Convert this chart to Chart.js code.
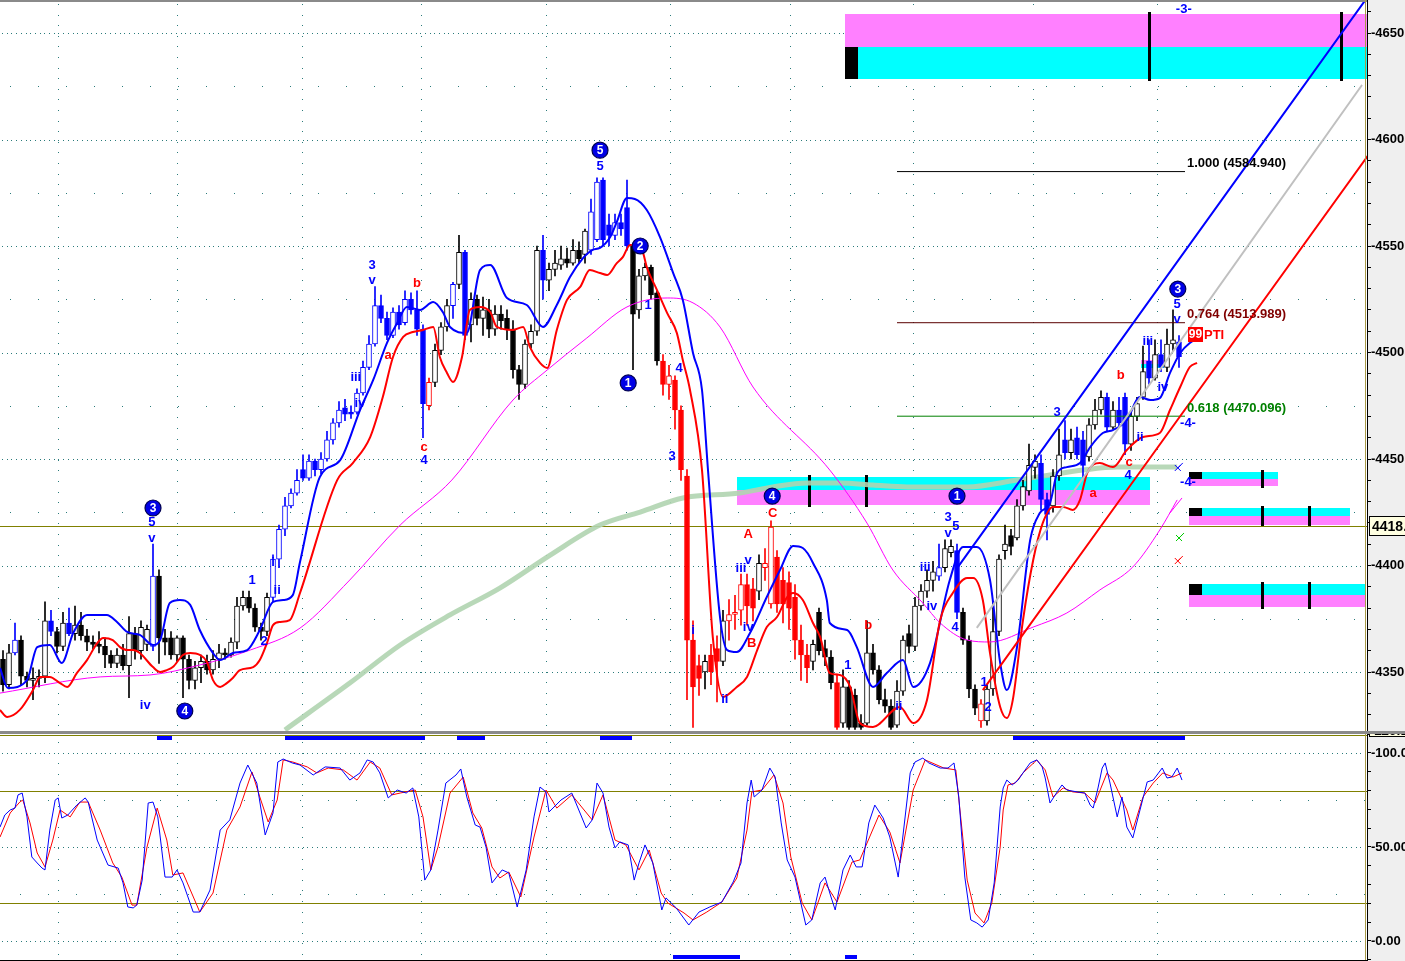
<!DOCTYPE html>
<html>
<head>
<meta charset="utf-8">
<title>Elliott wave chart</title>
<script src="https://cdn.jsdelivr.net/npm/chart.js@4.4.1/dist/chart.umd.min.js"></script>
<style>
  html, body { margin: 0; padding: 0; background: #ffffff; overflow: hidden; }
  #frame { position: relative; width: 1405px; height: 961px; }
  #priceCanvas { position: absolute; left: 0; top: 0; }
  #divider { position: absolute; left: 0; top: 731px; width: 1405px; height: 3px; background: #8a8a8a; }
  #stochCanvas { position: absolute; left: 0; top: 734px; }
</style>
</head>
<body>
<div id="frame">
  <canvas id="priceCanvas" width="1405" height="731"></canvas>
  <div id="divider"></div>
  <canvas id="stochCanvas" width="1405" height="227"></canvas>
</div>
<script>
Chart.defaults.font.family = '"Liberation Sans", Arial, sans-serif';

// ---- bars (one entry per bar) ----
const opens = [
  4356,4344,4359,4365,4348,4346,4347,4348,4374,4369, 4362,4373,4368,4372,4367,4364,4363,4362,4358,4354,
  4358,4353,4368,4360,4363,4362,4395,4366,4366,4358, 4366,4356,4346,4352,4355,4351,4356,4359,4358,4364,
  4381,4385,4380,4371,4369,4385,4403,4417,4428,4434, 4445,4441,4449,4445,4450,4459,4467,4474,4472,4472,
  4481,4493,4504,4522,4516,4508,4519,4514,4525,4520, 4511,4475,4486,4501,4512,4522,4532,4547,4513,4525,
  4516,4520,4511,4518,4516,4511,4492,4485,4504,4510, 4548,4534,4539,4541,4544,4542,4548,4546,4548,4553,
  4581,4560,4555,4561,4568,4550,4520,4536,4540,4528, 4496,4485,4487,4473,4442,4365,4353,4350,4358,4361,
  4355,4374,4377,4379,4391,4389,4388,4399,4382,4404, 4393,4392,4385,4365,4358,4355,4378,4361,4357,4345,
  4326,4343,4339,4326,4326,4359,4351,4337,4334,4325, 4341,4368,4362,4381,4388,4393,4395,4399,4406,4407,
  4378,4365,4342,4327,4327,4342,4369,4407,4414,4413, 4428,4435,4446,4448,4431,4428,4442,4459,4453,4460,
  4459,4451,4466,4473,4479,4465,4473,4479,4457,4470, 4479,4496,4488,4499,4493,4504,4505
];
const highs = [
  4360,4363,4373,4367,4350,4352,4351,4383,4379,4371, 4378,4380,4381,4378,4370,4367,4369,4366,4360,4361,
  4363,4376,4371,4374,4372,4410,4398,4370,4369,4367, 4367,4358,4355,4358,4358,4360,4363,4361,4366,4385,
  4388,4388,4382,4373,4387,4405,4419,4432,4436,4445, 4452,4452,4450,4453,4463,4469,4477,4478,4475,4483,
  4496,4508,4531,4527,4519,4521,4522,4529,4528,4529, 4513,4488,4504,4514,4525,4533,4555,4548,4528,4527,
  4526,4525,4522,4522,4520,4515,4494,4506,4513,4550, 4555,4542,4548,4550,4549,4553,4552,4558,4572,4582,
  4582,4565,4565,4565,4581,4551,4539,4542,4541,4529, 4499,4494,4489,4475,4445,4374,4358,4358,4363,4367,
  4379,4384,4386,4396,4396,4394,4405,4408,4421,4407, 4399,4397,4391,4372,4363,4365,4380,4365,4360,4349,
  4351,4346,4342,4330,4374,4363,4353,4342,4337,4346, 4367,4372,4385,4391,4398,4402,4410,4412,4412,4410,
  4380,4367,4344,4337,4344,4383,4405,4419,4417,4431, 4440,4457,4452,4452,4434,4445,4464,4468,4464,4465,
  4463,4469,4478,4482,4481,4477,4479,4481,4472,4479, 4503,4506,4506,4506,4511,4520,4508
];
const lows = [
  4341,4342,4358,4344,4343,4337,4343,4345,4367,4359, 4360,4367,4365,4365,4360,4361,4359,4352,4352,4352,
  4351,4338,4356,4356,4360,4360,4354,4358,4356,4355, 4338,4342,4342,4345,4349,4349,4352,4356,4357,4361,
  4379,4378,4369,4365,4367,4383,4399,4414,4427,4433, 4440,4440,4442,4443,4449,4457,4465,4468,4469,4471,
  4480,4492,4503,4514,4506,4507,4511,4513,4518,4508, 4460,4473,4484,4499,4510,4516,4530,4506,4505,4513,
  4508,4507,4508,4511,4506,4488,4478,4483,4502,4508, 4525,4529,4536,4539,4540,4541,4542,4542,4546,4552,
  4550,4550,4553,4555,4548,4492,4516,4534,4525,4494, 4480,4478,4464,4440,4337,4324,4339,4342,4344,4336,
  4353,4365,4370,4372,4372,4374,4384,4393,4380,4378, 4373,4370,4356,4346,4345,4351,4358,4353,4342,4323,
  4324,4323,4323,4323,4325,4349,4335,4331,4323,4324, 4339,4359,4360,4379,4385,4388,4393,4397,4404,4375,
  4363,4338,4330,4324,4325,4339,4367,4403,4405,4412, 4426,4433,4441,4426,4412,4425,4440,4450,4450,4450,
  4441,4449,4464,4471,4463,4464,4465,4452,4454,4468, 4478,4485,4487,4491,4491,4501,4493
];
const closes = [
  4344,4359,4365,4348,4346,4347,4348,4374,4369,4362, 4373,4368,4372,4367,4364,4363,4362,4358,4354,4358,
  4353,4368,4360,4371,4370,4395,4366,4364,4358,4366, 4356,4346,4352,4355,4351,4356,4359,4358,4364,4381,
  4385,4380,4371,4369,4385,4403,4417,4428,4434,4440, 4441,4449,4445,4450,4459,4467,4473,4471,4471,4481,
  4493,4504,4522,4516,4508,4519,4513,4525,4520,4511, 4476,4486,4501,4512,4522,4532,4547,4508,4525,4516,
  4520,4511,4518,4515,4511,4492,4485,4504,4510,4548, 4534,4539,4542,4544,4542,4548,4544,4557,4566,4580,
  4553,4555,4561,4558,4550,4518,4536,4540,4527,4496, 4485,4489,4473,4445,4365,4343,4347,4355,4350,4355,
  4374,4377,4378,4391,4381,4380,4401,4401,4418,4382, 4382,4380,4365,4358,4352,4363,4360,4357,4345,4324,
  4343,4324,4324,4324,4359,4351,4337,4334,4324,4341, 4365,4362,4381,4388,4393,4397,4399,4408,4409,4378,
  4365,4342,4333,4335,4342,4369,4403,4410,4409,4428, 4437,4447,4449,4431,4424,4442,4452,4453,4459,4452,
  4447,4466,4473,4479,4465,4473,4467,4457,4470,4476, 4491,4488,4499,4493,4504,4506,4498
];
// wave colouring of each bar: k = plain, b = blue count, r = red count
const waveGroup = (
  'kkbkkkkkbk' + 'kbkkkkkkkk' + 'kkkkkbkkkk' + 'kkkkkkkkkk' + 'kkkkkbbbbb' +
  'bbbbbbbbbb' + 'bbbbbbbbbb' + 'brkkkbkbkk' + 'kkkkkkkkkk' + 'bkkkkkkkbb' +
  'bbbbbkkkkk' + 'rrrrrrrkrr' + 'krrrrrkrrr' + 'rrrrrkkkkr' + 'kkkkkkkkkk' +
  'kkkkkkbkkb' + 'kkkrkkkkkk' + 'kkkbbkkbkb' + 'bkkkbkbbkk' + 'kbkbkkb'
).split('');

// ---- averages, read at their turning points: [bar, price] ----
const upperBand = [[-0.5,4351.9],[0.8,4342.5],[4,4346.2],[5.7,4361.7],[7.8,4362.7],[9.8,4354.2],[11.7,4368.3],[14,4376.8],[17.3,4376.8],[19,4373.5],[20.7,4368.8],[22.8,4367.4],[25,4362.7],[26.2,4365],[27.8,4382.4],[29.5,4383.8],[31.2,4381.5],[32.8,4369.7],[35,4358.9],[36.2,4355.6],[38.3,4358.9],[40.7,4360.3],[42.8,4369.7],[45,4382.9],[46.7,4383.8],[48.3,4386.1],[49.5,4401.6],[52.8,4441.5],[56.2,4449.5],[59.5,4473],[61.7,4487.1],[64,4504.5],[65.7,4513.9],[67.3,4521.4],[69.5,4520],[71.7,4523.7],[73.3,4519],[74.5,4512],[77.3,4509.2],[79.5,4538.7],[81.2,4541.1],[84,4525.6],[87.3,4522.3],[90,4512],[92.3,4522.3],[94.5,4535.4],[96.7,4544.4],[98.2,4548.1],[99.5,4549.1],[101.2,4554.2],[102.3,4561.3],[104,4572.5],[105.3,4572.1],[107.3,4566.9],[109.5,4554.2],[111.7,4537.3],[113.3,4524.7],[115,4499.8],[116.5,4482.4],[117.5,4444.8],[119.5,4375.8],[120.7,4360.3],[122.3,4359.4],[124.5,4368.3],[127.3,4385.2],[129.5,4397.9],[131.7,4409.2],[133.3,4408.2],[135,4401.2],[137.3,4383.8],[137.8,4373],[140.7,4369.7],[142.3,4361.7],[145,4343],[147.3,4349.5],[150,4355.6],[151.7,4343],[154.5,4354.2],[157.8,4393.2],[160,4408.7],[162.3,4408.7],[164.5,4393.2],[166.2,4354.2],[167.3,4341.5],[169,4361.7],[171.2,4412],[172.8,4424.6],[174.5,4429.3],[175.7,4443.4],[177.3,4446.2],[179.5,4448.1],[181.2,4455.6],[183.3,4462.2],[185,4463.6],[187.3,4468.3],[189.5,4479.1],[191.2,4477.7],[192.8,4478.6],[194.5,4490.4],[196.2,4499.8],[197.8,4504.5],[199.5,4507.3]];
const lowerBand = [[-0.5,4332.2],[0.7,4328.9],[2.8,4332.2],[5,4341.5],[6.2,4347.7],[7.8,4347.7],[9.5,4344.8],[10.7,4343],[12.3,4349.5],[14,4355.6],[15.7,4363.6],[16.7,4366],[18.3,4365],[19.5,4361.7],[20.7,4360.3],[21.7,4360.3],[22.8,4358.9],[25,4352.3],[26.2,4350],[27.3,4350.9],[28.3,4352.3],[30,4358],[31.2,4358.9],[32.8,4358],[34,4354.7],[35,4346.2],[36.2,4343],[37.3,4344.8],[38.3,4347.2],[39.5,4350.9],[41.7,4352.3],[42.8,4355.6],[44,4363.6],[45,4372],[46.2,4373.5],[47.8,4374.4],[49.5,4387.1],[55.7,4440.1],[58.3,4448.1],[61.2,4460.3],[63.3,4479.1],[65,4497.9],[66.7,4507.3],[68.3,4509.6],[70,4510.6],[71.7,4512],[72.8,4497.9],[74,4490.4],[75,4486.2],[76.5,4497.9],[77.8,4520],[79.5,4521.4],[81.2,4519],[82.3,4512],[85,4510.6],[86.7,4512],[87.8,4502.6],[89.5,4495.1],[90.7,4492.7],[92.3,4510.6],[94,4524.7],[96.2,4530.8],[97.8,4538.7],[99.5,4537.3],[100.7,4536.4],[102.3,4542],[103.3,4544.8],[104.5,4550.5],[106.5,4548.1],[107.3,4540.1],[109,4529.3],[110.7,4518.5],[112.3,4509.2],[113.3,4496.5],[114.5,4482.4],[116.5,4444.8],[118.3,4366.4],[120,4338.3],[122.3,4343],[124,4347.7],[125.7,4360.3],[127.3,4371.1],[129,4375.8],[130.7,4385.2],[131.7,4387.1],[133.3,4383.8],[135,4373],[136.2,4366.4],[137.8,4349.5],[139.5,4348.6],[141.2,4343],[142.8,4326.1],[145,4324.2],[149.5,4333.6],[151.7,4326.1],[154,4336.9],[156.2,4374.4],[158.3,4387.1],[160.7,4394.1],[161.7,4394.1],[163.3,4383.8],[164.5,4358.9],[166.2,4333.6],[167.3,4328.4],[168.3,4336.9],[170,4374.4],[171.7,4402.6],[173.3,4420],[175,4427.5],[176.7,4427.5],[178.3,4426.1],[179.5,4430.8],[180.7,4443.4],[182.8,4448.1],[185,4446.2],[187.3,4454.2],[190,4460.3],[192.8,4462.2],[194.5,4473],[196.2,4483.8],[197.8,4493.2],[199,4495.1]];
const slowAverage = [[-0.5,4340.1],[16.2,4347.7],[24.5,4348.6],[32.8,4353.3],[41.2,4360.3],[49.5,4370.6],[57.8,4393.2],[66.2,4419],[74.8,4440.1],[85,4477.7],[90.7,4491.8],[97.3,4506.8],[104,4521.4],[110.7,4525.6],[115,4523.3],[119.5,4512],[125,4483.8],[137.8,4444.8],[144,4419.9],[148.3,4397.9],[153.3,4382.4],[156.2,4373],[160.7,4365],[164.5,4364.1],[171.7,4371.1],[177.3,4377.7],[182.8,4388.5],[188.3,4399.3],[192.8,4416.7],[195.7,4430.8]];
const longAverage = [[47,4322.8],[57.8,4344.8],[66.2,4362.7],[74.5,4376.8],[82.8,4389.4],[91.2,4404.9],[99.5,4419],[106.2,4425.1],[113.3,4431.7],[122.8,4434],[128.3,4436.9],[134,4438.7],[139.5,4438.7],[145,4437.8],[150.7,4436.9],[160.7,4436.9],[169,4440.1],[174.5,4442.5],[180,4444.8],[185.7,4446.2],[195.7,4446.2]];

// channel lines
const blueChannel = [[159.2,4399.5],[227.5,4667.2]];
const redChannel = [[163.3,4341.5],[227.5,4592.5]];
const grayChannel = [[162.3,4370.7],[226.5,4625.6]];

// fibonacci targets
const fibRatios = ['1.000', '0.764', '0.618'];
const fibLevels = [4584.94, 4513.989, 4470.096];
const fibSpan = [149, 197];
const refLevel = 4418.4;

// stochastic %K / %D: [bar, value]
const stochK = [[-0.5,60.6],[0.3,67],[1.2,69.7],[2,70.7],[2.5,77.7],[3.2,78.7],[4,66],[4.8,44.7],[5.7,41.5],[6.5,38.8],[7,37.8],[7.8,59],[8.7,75],[9.2,76.1],[9.8,65.4],[10.8,67],[12.3,72.3],[13.7,76.1],[14.2,73.9],[15.7,53.7],[17.5,40.4],[19.2,38.8],[20,30.9],[20.8,18.1],[21.7,17.6],[22.3,19.1],[23.2,32.4],[24.2,73.4],[25,73.9],[25.8,66],[27,34],[28.2,34],[29,37.8],[30,30.9],[31.7,15.4],[32.8,15.4],[34.5,27.1],[36.2,59],[37.8,64.4],[39.5,84],[40.8,93.6],[42.3,84],[43.7,56.4],[45,68.1],[45.8,95.2],[46.7,96.8],[48.2,94.7],[49.5,93.6],[51.7,88.3],[53.7,92.6],[56.2,92],[57.8,85.6],[59.5,89.4],[60.7,96.3],[61.7,95.2],[62.8,89.4],[64.2,76.1],[65.7,80.3],[67.2,78.7],[68.3,81.4],[69.3,66],[70.3,32.4],[71.3,37.8],[72.5,59],[73.8,84],[75.5,88.3],[76.3,91.5],[77.3,76.6],[78.7,61.7],[79.5,60.6],[80.5,50],[81.5,30.9],[83.2,37.8],[84.3,36.2],[85.7,18.1],[87.2,37.8],[88.5,66],[89.5,81.9],[90.5,79.3],[91,68.6],[93,75],[94.8,78.7],[97.2,60.1],[98.2,64.4],[99,84],[100,78.7],[101,60.6],[102,49.5],[102.8,52.7],[104.2,51.1],[105.2,32.4],[106,41.5],[107,51.1],[108.3,41.5],[109.8,16.5],[110.5,22.9],[112.2,17.6],[114.3,8.5],[116,15.4],[117.8,18.1],[119.8,20.7],[121.7,31.4],[123,41.5],[124,73.4],[124.7,85.6],[125.2,76.6],[126.5,80.3],[127.8,92],[128.7,87.2],[129.7,62.8],[130.7,43.1],[132,34],[133.8,8.5],[134.8,11.2],[136.2,30.9],[137,34],[138,23.4],[138.7,16.5],[140,37.8],[141.2,45.7],[142.2,39.4],[143.2,39.4],[144.3,62.8],[145.3,72.3],[146.7,65.4],[147.8,55.3],[149.2,34],[151.2,89.4],[152,95.2],[153.3,97.3],[154.3,94.7],[156.2,92],[157.5,92],[158.5,94.7],[159.3,76.6],[160.3,34],[161.3,11.2],[162.3,9.6],[163.2,7.4],[164.2,11.2],[165.2,30.9],[166.2,71.3],[166.7,81.4],[167.3,85.6],[168.2,83],[169.2,85.6],[170,89.4],[171.2,94.7],[172.3,96.3],[173.2,92.6],[173.7,86.7],[174.5,73.4],[175.7,79.3],[176.5,83],[177.3,80.3],[179,79.3],[180.3,78.7],[181.2,72.3],[181.7,70.7],[182.5,81.4],[183.2,92],[183.7,94.7],[184.5,84],[185.7,66],[186.5,76.6],[187.3,60.6],[188.3,54.8],[189.5,69.7],[190.7,84.6],[191.7,85.6],[193.2,92],[194,86.7],[194.8,87.2],[195.7,92],[196.5,85.6]];
const stochD = [[-0.5,55.3],[1.2,68.1],[2.8,73.9],[3.3,75],[4.5,62.8],[5.7,46.8],[7,39.4],[8.3,53.7],[9.5,69.7],[11.2,66],[12.8,73.9],[14.2,73.9],[16.2,59],[18.3,41.5],[19.8,34],[21.5,19.1],[22.3,19.1],[24,50],[25.7,70.7],[27.3,53.7],[28.3,35.1],[30,36.2],[32.8,15.4],[35,25.5],[37.3,59],[39.5,71.3],[41.5,89.9],[42.8,76.6],[44.2,63.3],[45.7,75],[46.7,96.3],[48.3,95.2],[50.7,92.6],[52.3,89.4],[54.2,92],[56.7,91],[59,85.6],[61.2,95.2],[62.8,92],[64.8,77.7],[66.2,78.7],[68.7,80.3],[70,66],[71.3,37.8],[72.5,50],[74.5,78.7],[76.7,87.2],[78.3,68.1],[79.8,60.1],[81.5,39.4],[82.8,33.5],[84.3,36.7],[86.3,23.4],[88.5,55.3],[90.5,80.3],[92.3,70.7],[94.8,77.7],[98.2,64.4],[100,77.7],[102,53.7],[103.8,51.1],[106,37.8],[107.7,48.4],[109.7,25.5],[110.8,20.2],[113.5,14.9],[115,11.2],[117.3,15.4],[119.8,20.7],[122.3,33.5],[124,59],[124.8,79.3],[126.5,80.3],[128.5,88.3],[130,73.4],[131.3,44.7],[133.2,20.2],[134.8,11.2],[137,30.9],[139,20.7],[141.5,42],[142.8,43.1],[146,67],[147.8,58],[149.5,41.5],[151.7,80.3],[153.7,96.3],[156.8,92],[158.8,91],[160.7,32.4],[162,14.9],[163.5,9.6],[164.8,20.2],[166.2,50],[166.7,69.7],[167.5,83],[168.7,84],[170,89.4],[172.3,96.3],[173.7,91],[175,76.6],[176.7,81.4],[178.3,79.3],[180.3,78.7],[182,73.4],[184,89.4],[185,85.6],[187.3,69.7],[188.3,59],[190,76.6],[191.7,84],[193.3,89.4],[195,87.2],[196.5,89.4]];
const stochBands = [80, 20];
const stochTickText = { 100: '-100.0', 50: '-50.00', 0: '-0.00' };

// ---- annotations (bar, price) ----
// [x0, x1, top, middle, bottom, upper colour, black square band, marker bars]
const zones = [
  [140.3, 227.5, 4658.9, 4643.4, 4628.4, 'm', 'low', [191, 223]],
  [122.3, 191.2, 4441.6, 4435.4, 4428.4, 'c', null, [134.3, 143.8]],
  [197.7, 212.5, 4443.9, 4440.6, 4437.3, 'c', 'up', [209.8]],
  [197.7, 224.5, 4427.0, 4423.2, 4419.0, 'c', 'up', [209.8, 217.7]],
  [197.7, 227.2, 4391.3, 4386.2, 4380.5, 'c', 'up', [209.8, 217.7]],
  [189.7, 193.5, 4496.5, 4494.6, 4492.7, 'm', null, []]
];
const circleLabels = [
  ['3', 25, 4427], ['4', 30.3, 4331.7], ['5', 99.5, 4595], ['2', 106.2, 4550], ['1', 104.2, 4485.7],
  ['4', 128.2, 4432.6], ['1', 159, 4432.6], ['3', 195.8, 4529.8]
];
const waveLabels = [
  ['5',24.8,4420,'b'],['v',24.8,4412.9,'b'],['iv',23.7,4334.5,'b'],['1',41.5,4393.2,'b'],['2',43.5,4364.5,'b'],
  ['i',45,4401.6,'b'],['ii',45.7,4388.5,'b'],['3',61.5,4541.1,'b'],['v',61.5,4534,'b'],['b',69,4532.6,'r'],
  ['a',64.2,4498.4,'r'],['iii',58.8,4488.5,'b'],['iv',59.5,4476.3,'b'],['c',70.2,4455.6,'r'],['4',70.2,4449.5,'b'],
  ['5',99.5,4587.6,'b'],['1',107.5,4522.3,'b'],['4',112.7,4492.7,'b'],['3',111.5,4451,'b'],
  ['i',115,4369.7,'b'],['ii',120.3,4336.9,'b'],['iii',123,4398.8,'b'],['v',124.2,4402.6,'b'],['iv',124.2,4371.1,'b'],
  ['A',124.2,4414.8,'r'],['B',124.8,4363.6,'r'],['C',128.3,4424.6,'r'],['1',140.8,4353.3,'b'],['b',144.2,4372,'r'],
  ['ii',149.3,4334,'b'],['iii',153.7,4399.3,'b'],['iv',154.8,4381,'b'],['3',157.5,4422.8,'b'],['5',158.8,4418.5,'b'],
  ['v',157.5,4415.2,'b'],['4',158.7,4370.7,'b'],['1',163.5,4345.3,'b'],['2',164.2,4333.6,'b'],['3',175.7,4472.1,'b'],
  ['a',181.7,4434,'r'],['b',186.3,4489.4,'r'],['c',187.7,4448.6,'r'],['4',187.5,4442.5,'b'],['ii',189.5,4460.3,'b'],
  ['iii',190.8,4505.4,'b'],['iv',193.3,4483.8,'b'],['5',195.7,4522.8,'b'],['v',195.7,4515.7,'b'],
  ['-3-',196.8,4661.3,'b'],['-4-',197.5,4466.9,'b'],['-4-',197.5,4439.2,'b']
];
const ptiTag = [197.5, 4508.7];
const crossMarks = [[195.8, 4445.8, '#0000ff'], [196, 4412.9, '#00cc00'], [195.8, 4402.1, '#ff0000']];
const gridBars = [9.2, 29, 49.8, 69.7, 90.5, 111.2, 131.2, 151.7, 171.7, 192.3];
const stochMarksTop = [[25.7, 28.2], [47, 70.3], [75.7, 80.3], [99.5, 104.8], [168.3, 197]];
const stochMarksBottom = [[111.7, 122.8], [140.3, 142.3]];

// ---- scale ranges ----
const BAR_MIN = -0.5, BAR_MAX = 227.5;
const PRICE_MIN = 4322.3, PRICE_MAX = 4665.5;
const STOCH_MIN = -10.64, STOCH_MAX = 110.1;

const LABEL_FONT = 'bold 13px "Liberation Sans", Arial, sans-serif';
const DOT = '#2b7b7b';
const CYAN = '#00ffff', MAGENTA = '#ff80ff', OLIVE = '#808000';
const palette = { k: '#000000', b: '#0000ff', r: '#ff0000' };

function lineSet(points, color, width, order, extra) {
  return Object.assign({
    type: 'line',
    data: points.map(p => ({ x: p[0], y: p[1] })),
    borderColor: color, borderWidth: width,
    pointRadius: 0, fill: false, order: order,
    cubicInterpolationMode: 'monotone'
  }, extra || {});
}
function hDots(ctx, y, x0, x1, step) {
  y = Math.round(y);
  for (let x = x0; x < x1; x += step) ctx.fillRect(Math.round(x), y, 1, 1);
}
function vDots(ctx, x, y0, y1, step) {
  x = Math.round(x);
  for (let y = y0; y < y1; y += step) ctx.fillRect(x, Math.round(y), 1, 1);
}
function circled(ctx, text, px, py) {
  ctx.beginPath();
  ctx.arc(px, py, 8, 0, Math.PI * 2);
  ctx.fillStyle = '#0000e6';
  ctx.fill();
  ctx.lineWidth = 1.2;
  ctx.strokeStyle = '#000050';
  ctx.stroke();
  ctx.fillStyle = '#ffffff';
  ctx.font = 'bold 12px "Liberation Sans", Arial, sans-serif';
  ctx.textAlign = 'center';
  ctx.textBaseline = 'middle';
  ctx.fillText(text, px, py + 0.5);
}
function axisOptions(min, max, step, labelFn) {
  return {
    position: 'right', min: min, max: max,
    afterFit(scale) { scale.width = 37; scale.paddingTop = 0; scale.paddingBottom = 0; },
    border: { display: false },
    grid: { drawOnChartArea: false, drawTicks: true, tickLength: 3, tickColor: '#000', tickWidth: 1 },
    ticks: {
      stepSize: step, autoSkip: false, includeBounds: false, padding: 0,
      color: '#000', font: { size: 13, weight: 'bold' },
      callback: labelFn
    }
  };
}

// ---- price panel ----
const idx = closes.map((_, i) => i);
const edgeColors = idx.map(i => palette[waveGroup[i]]);
const bodyColors = idx.map(i => closes[i] >= opens[i] ? '#ffffff' : palette[waveGroup[i]]);

const pricePanel = {
  id: 'pricePanel',
  beforeDraw(chart) {
    const { ctx, chartArea: a, width, height } = chart;
    ctx.save();
    ctx.fillStyle = '#ffffff';
    ctx.fillRect(0, 0, width, height);
    ctx.fillStyle = '#efefef';
    ctx.fillRect(a.right, 0, width - a.right, height);
    ctx.restore();
  },
  beforeDatasetsDraw(chart) {
    const { ctx, chartArea: a, scales: { x, y } } = chart;
    const X = v => x.getPixelForValue(v), Y = v => y.getPixelForValue(v);
    ctx.save();
    ctx.beginPath();
    ctx.rect(a.left, a.top, a.right - a.left, a.bottom - a.top);
    ctx.clip();
    ctx.fillStyle = DOT;
    for (let v = 4350; v <= 4650; v += 50) hDots(ctx, Y(v), a.left + 2, a.right, 4.7);
    for (let v = 4375; v <= 4625; v += 50) hDots(ctx, Y(v), a.left + 10, a.right, 28);
    gridBars.forEach(b => vDots(ctx, X(b), a.top + 4, a.bottom, 10.6));

    zones.forEach(([x0, x1, top, mid, bot, upper, square, marks]) => {
      const L = Math.round(X(x0)), R = Math.round(X(x1));
      const T = Math.round(Y(top)), M = Math.round(Y(mid)), B = Math.round(Y(bot));
      ctx.fillStyle = upper === 'm' ? MAGENTA : CYAN;
      ctx.fillRect(L, T, R - L, M - T);
      ctx.fillStyle = upper === 'm' ? CYAN : MAGENTA;
      ctx.fillRect(L, M, R - L, B - M);
      ctx.fillStyle = '#000000';
      if (square === 'up') ctx.fillRect(L, T, 13, M - T);
      if (square === 'low') ctx.fillRect(L, M, 13, B - M);
      marks.forEach(m => ctx.fillRect(Math.round(X(m)) - 1, T - 2, 3, B - T + 4));
    });

    ctx.fillStyle = OLIVE;
    ctx.fillRect(a.left, Math.round(Y(refLevel)), a.right - a.left, 1);
    ctx.restore();
  },
  afterDatasetsDraw(chart) {
    const { ctx, scales: { x, y } } = chart;
    const X = v => x.getPixelForValue(v), Y = v => y.getPixelForValue(v);
    ctx.save();
    ctx.font = LABEL_FONT;
    ctx.textAlign = 'left';
    ctx.textBaseline = 'middle';
    const fibColors = ['#000000', '#800000', '#008000'];
    fibLevels.forEach((lvl, k) => {
      ctx.fillStyle = fibColors[k];
      ctx.fillText(fibRatios[k] + ' (' + lvl.toFixed(3) + ')', X(fibSpan[1]) + 2, Y(lvl) - 8);
    });

    const tx = Math.round(X(ptiTag[0])), ty = Math.round(Y(ptiTag[1]));
    ctx.fillStyle = '#ff0000';
    ctx.fillRect(tx, ty - 7, 15, 15);
    ctx.fillStyle = '#ffffff';
    ctx.font = 'bold 12px "Liberation Sans", Arial, sans-serif';
    ctx.textAlign = 'center';
    ctx.fillText('99', tx + 7.5, ty + 1);
    ctx.fillStyle = '#ff0000';
    ctx.font = LABEL_FONT;
    ctx.textAlign = 'left';
    ctx.fillText('PTI', tx + 16, ty + 1);

    ctx.textAlign = 'center';
    waveLabels.forEach(([t, b, p, c]) => {
      ctx.fillStyle = c === 'r' ? '#ff0000' : '#0000ff';
      ctx.fillText(t, X(b), Y(p));
    });
    circleLabels.forEach(([t, b, p]) => circled(ctx, t, X(b), Y(p)));

    ctx.lineWidth = 1;
    crossMarks.forEach(([b, p, c]) => {
      const cx = X(b), cy = Y(p);
      ctx.strokeStyle = c;
      ctx.beginPath();
      ctx.moveTo(cx - 3, cy - 3); ctx.lineTo(cx + 3, cy + 3);
      ctx.moveTo(cx - 3, cy + 3); ctx.lineTo(cx + 3, cy - 3);
      ctx.moveTo(cx, cy); ctx.lineTo(cx + 5, cy - 5);
      ctx.stroke();
    });
    ctx.strokeStyle = '#ff00ff';
    ctx.beginPath();
    ctx.moveTo(X(194.5), Y(4424.7));
    ctx.lineTo(X(196.5), Y(4431.7));
    ctx.stroke();
    ctx.restore();
  },
  afterDraw(chart) {
    const { ctx, chartArea: a, width, height, scales: { y } } = chart;
    ctx.save();
    ctx.fillStyle = '#8a8a8a';
    ctx.fillRect(0, 0, a.right, 2);
    ctx.fillStyle = '#a89a48';
    ctx.fillRect(a.right - 3, 0, 1, height);
    ctx.fillStyle = '#000000';
    ctx.fillRect(a.right - 1, 0, 1, height);
    const ty = Math.round(y.getPixelForValue(refLevel));
    ctx.fillStyle = '#ffffe1';
    ctx.fillRect(a.right + 1, ty - 9, width - a.right, 19);
    ctx.strokeStyle = '#000000';
    ctx.lineWidth = 1;
    ctx.strokeRect(a.right + 1.5, ty - 9.5, width - a.right, 19);
    ctx.fillStyle = '#000000';
    ctx.font = 'bold 14px "Liberation Sans", Arial, sans-serif';
    ctx.textAlign = 'left';
    ctx.textBaseline = 'middle';
    ctx.fillText(refLevel.toFixed(1), a.right + 4, ty + 1);
    ctx.restore();
  }
};

new Chart(document.getElementById('priceCanvas'), {
  type: 'bar',
  data: {
    datasets: [
      lineSet(longAverage, 'rgba(176,212,176,0.9)', 5, 20),
      {
        type: 'bar', data: idx.map(i => ({ x: i, y: [lows[i], highs[i]] })),
        backgroundColor: edgeColors, borderWidth: 0, barThickness: 1, grouped: false, order: 19
      },
      {
        type: 'bar', data: idx.map(i => ({ x: i, y: [opens[i], closes[i]] })),
        backgroundColor: bodyColors, borderColor: edgeColors, borderWidth: 1, borderSkipped: false,
        barThickness: 5, minBarLength: 1, grouped: false, order: 18
      },
      lineSet(slowAverage, '#ff00ff', 1, 17),
      lineSet(upperBand, '#0000ff', 2, 16),
      lineSet(lowerBand, '#ff0000', 2, 15),
      lineSet([[fibSpan[0], fibLevels[0]], [fibSpan[1], fibLevels[0]]], '#000000', 1, 14),
      lineSet([[fibSpan[0], fibLevels[1]], [fibSpan[1], fibLevels[1]]], '#5a0000', 1, 14),
      lineSet([[fibSpan[0], fibLevels[2]], [fibSpan[1], fibLevels[2]]], '#008000', 1, 14),
      lineSet(grayChannel, '#c0c0c0', 2, 13),
      lineSet(redChannel, '#ff0000', 2, 12),
      lineSet(blueChannel, '#0000ff', 2, 11)
    ]
  },
  options: {
    responsive: false, animation: false, events: [],
    layout: { padding: 0 },
    plugins: { legend: { display: false }, tooltip: { enabled: false } },
    scales: {
      x: { type: 'linear', min: BAR_MIN, max: BAR_MAX, offset: false, display: false },
      y: axisOptions(PRICE_MIN, PRICE_MAX, 10, v => (v % 50 === 0 ? '-' + v : ''))
    }
  },
  plugins: [pricePanel]
});

// ---- stochastic panel ----
const stochPanel = {
  id: 'stochPanel',
  beforeDraw(chart) {
    const { ctx, chartArea: a, width, height } = chart;
    ctx.save();
    ctx.fillStyle = '#ffffff';
    ctx.fillRect(0, 0, width, height);
    ctx.fillStyle = '#efefef';
    ctx.fillRect(a.right, 0, width - a.right, height);
    ctx.restore();
  },
  beforeDatasetsDraw(chart) {
    const { ctx, chartArea: a, scales: { x, y } } = chart;
    const X = v => x.getPixelForValue(v), Y = v => y.getPixelForValue(v);
    ctx.save();
    ctx.beginPath();
    ctx.rect(a.left, a.top, a.right - a.left, a.bottom - a.top);
    ctx.clip();
    ctx.fillStyle = DOT;
    [0, 50, 100].forEach(v => hDots(ctx, Y(v), a.left + 2, a.right, 4.7));
    [25, 75].forEach(v => hDots(ctx, Y(v), a.left + 20, a.right, 28));
    gridBars.forEach(b => vDots(ctx, X(b), a.top + 8, a.bottom, 10.6));
    ctx.fillStyle = OLIVE;
    stochBands.forEach(v => ctx.fillRect(a.left, Math.round(Y(v)), a.right - a.left, 1));
    ctx.fillRect(a.left, 1, a.right - a.left, 1);
    ctx.fillStyle = '#0000ff';
    stochMarksTop.forEach(([b0, b1]) => ctx.fillRect(Math.round(X(b0)), 2, Math.round(X(b1) - X(b0)), 4));
    stochMarksBottom.forEach(([b0, b1]) => ctx.fillRect(Math.round(X(b0)), a.bottom - 6, Math.round(X(b1) - X(b0)), 4));
    ctx.restore();
  },
  afterDraw(chart) {
    const { ctx, chartArea: a, width, height } = chart;
    ctx.save();
    ctx.fillStyle = '#a89a48';
    ctx.fillRect(a.right - 3, 0, 1, height);
    ctx.fillStyle = '#000000';
    ctx.fillRect(a.right - 1, 0, 1, height);
    ctx.fillRect(0, height - 1, a.right, 1);
    ctx.fillStyle = '#ffffe1';
    ctx.fillRect(a.right + 1, -10, width - a.right, 13);
    ctx.strokeStyle = '#000000';
    ctx.lineWidth = 1;
    ctx.strokeRect(a.right + 1.5, -10.5, width - a.right, 13);
    ctx.fillStyle = '#000000';
    ctx.font = 'bold 14px "Liberation Sans", Arial, sans-serif';
    ctx.textAlign = 'left';
    ctx.textBaseline = 'middle';
    ctx.fillText('110.1', a.right + 6, -3);
    ctx.restore();
  }
};

new Chart(document.getElementById('stochCanvas'), {
  type: 'line',
  data: {
    datasets: [
      lineSet(stochD, '#ff0000', 1, 2, { cubicInterpolationMode: 'default', tension: 0 }),
      lineSet(stochK, '#0000ff', 1, 1, { cubicInterpolationMode: 'default', tension: 0 })
    ]
  },
  options: {
    responsive: false, animation: false, events: [],
    layout: { padding: 0 },
    plugins: { legend: { display: false }, tooltip: { enabled: false } },
    scales: {
      x: { type: 'linear', min: BAR_MIN, max: BAR_MAX, offset: false, display: false },
      y: axisOptions(STOCH_MIN, STOCH_MAX, 10, v => stochTickText[v] || '')
    }
  },
  plugins: [stochPanel]
});
</script>
</body>
</html>
